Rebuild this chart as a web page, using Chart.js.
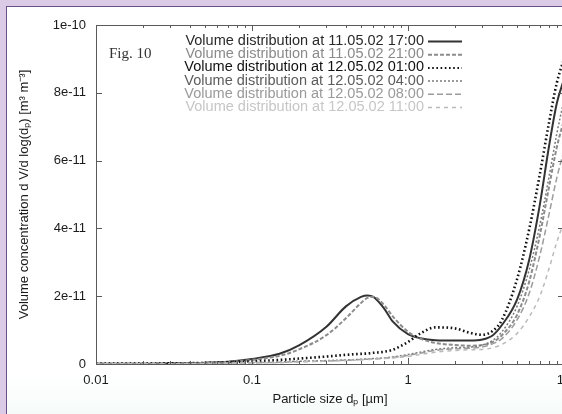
<!DOCTYPE html>
<html>
<head>
<meta charset="utf-8">
<script src="https://cdn.jsdelivr.net/npm/chart.js@4.4.0/dist/chart.umd.min.js"></script>
<style>
  html, body { margin: 0; padding: 0; width: 562px; height: 414px; overflow: hidden; background: #dccbe6; }
  #panel { position: absolute; left: 6px; top: 6px; width: 620px; height: 430px;
           background: linear-gradient(#ffffff 85%, #f1f9f7);
           border-left: 1px solid #6d4f86; border-top: 1px solid #6d4f86; }
  #myChart { position: absolute; left: 0; top: 0; }
</style>
</head>
<body>
<div id="panel"></div>
<canvas id="myChart" width="600" height="414"></canvas>
<script>
// particle size d_p in µm
const sizes = [0.01, 0.02, 0.03, 0.05, 0.07, 0.1, 0.15, 0.2, 0.3, 0.4, 0.5, 0.55, 0.6, 0.7, 0.8,
               1.0, 1.2, 1.5, 2.0, 2.5, 3.0, 3.5, 4.0, 5.0, 6.0, 7.0, 8.0, 9.0, 10.0];

// dV/dlog(d_p) in units of 1e-11 m^3 m^-3
const vol_1105_1700 = [0.01, 0.01, 0.02, 0.04, 0.07, 0.15, 0.30, 0.55, 1.10, 1.70, 1.98, 2.02, 1.98, 1.65, 1.25,
                       0.88, 0.76, 0.70, 0.69, 0.69, 0.72, 0.85, 1.15, 1.90, 3.10, 4.70, 6.40, 7.70, 8.40];
const vol_1105_2100 = [0.01, 0.01, 0.02, 0.03, 0.06, 0.12, 0.24, 0.43, 0.85, 1.35, 1.80, 1.95, 1.98, 1.75, 1.40,
                       0.95, 0.75, 0.62, 0.56, 0.54, 0.56, 0.65, 0.85, 1.45, 2.45, 3.80, 5.20, 6.40, 7.20];
const vol_1205_0100 = [0.01, 0.01, 0.02, 0.03, 0.05, 0.08, 0.12, 0.16, 0.22, 0.27, 0.30, 0.31, 0.33, 0.36, 0.42,
                       0.65, 0.90, 1.08, 1.05, 0.92, 0.86, 0.98, 1.30, 2.50, 4.00, 5.60, 7.10, 8.30, 9.00];
const vol_1205_0400 = [0.01, 0.01, 0.01, 0.02, 0.03, 0.04, 0.06, 0.08, 0.10, 0.12, 0.14, 0.15, 0.16, 0.18, 0.21,
                       0.28, 0.35, 0.43, 0.48, 0.50, 0.56, 0.70, 0.95, 1.70, 2.80, 4.10, 5.50, 6.80, 7.80];
const vol_1205_0800 = [0.01, 0.01, 0.01, 0.02, 0.03, 0.04, 0.05, 0.07, 0.09, 0.11, 0.13, 0.14, 0.15, 0.17, 0.19,
                       0.25, 0.32, 0.40, 0.45, 0.47, 0.50, 0.60, 0.75, 1.30, 2.10, 3.20, 4.40, 5.50, 6.30];
const vol_1205_1100 = [0.01, 0.01, 0.01, 0.02, 0.02, 0.03, 0.04, 0.06, 0.08, 0.10, 0.12, 0.13, 0.14, 0.16, 0.18,
                       0.22, 0.28, 0.35, 0.40, 0.42, 0.43, 0.48, 0.58, 0.90, 1.40, 2.00, 2.80, 3.60, 4.20];

const seriesLabels = [
  'Volume distribution at 11.05.02 17:00',
  'Volume distribution at 11.05.02 21:00',
  'Volume distribution at 12.05.02 01:00',
  'Volume distribution at 12.05.02 04:00',
  'Volume distribution at 12.05.02 08:00',
  'Volume distribution at 12.05.02 11:00'
];
const seriesValues = [vol_1105_1700, vol_1105_2100, vol_1205_0100, vol_1205_0400, vol_1205_0800, vol_1205_1100];

const xTickValues = [0.01, 0.1, 1, 10];
const xTickLabels = ['0.01', '0.1', '1', '10'];
const yTickValues = [0, 2, 4, 6, 8, 10];
const yTickLabels = ['0', '2e-11', '4e-11', '6e-11', '8e-11', '1e-10'];

// line looks, one per series
const lineColors = ['#333333', '#8c8c8c', '#111111', '#7a7a7a', '#9c9c9c', '#bababa'];
const textColors = ['#2a2a2a', '#8a8a8a', '#111111', '#5c5c5c', '#9a9a9a', '#c6c6c6'];
const lineDashes = [[], [4, 2], [1.6, 2.6], [2, 2], [6, 3], [4, 4]];
const lineWidths = [2, 2, 2.6, 1.5, 1.5, 1.5];

const FONT = '"Liberation Sans", Arial, sans-serif';

// gnuplot style frame with inner ticks
const framePlugin = {
  id: 'frame',
  afterDatasetsDraw(chart) {
    const {ctx, chartArea: a, scales: {x, y}} = chart;
    ctx.save();
    ctx.strokeStyle = '#5a5a5a';
    ctx.lineWidth = 1;
    ctx.strokeRect(a.left + 0.5, a.top + 0.5, a.right - a.left, a.bottom - a.top);
    ctx.beginPath();
    for (let dec = 0.01; dec < 10; dec *= 10) {
      for (let m = 1; m < 10; m++) {
        const px = Math.round(x.getPixelForValue(dec * m)) + 0.5;
        const len = m === 1 ? 6 : 3;
        ctx.moveTo(px, a.bottom); ctx.lineTo(px, a.bottom - len);
        ctx.moveTo(px, a.top); ctx.lineTo(px, a.top + len);
      }
    }
    yTickValues.forEach(v => {
      const py = Math.round(y.getPixelForValue(v)) + 0.5;
      ctx.moveTo(a.left, py); ctx.lineTo(a.left + 6, py);
      ctx.moveTo(a.right, py); ctx.lineTo(a.right - 6, py);
    });
    ctx.stroke();
    ctx.restore();
  }
};

// legend: text right aligned, sample line on the right
const keyPlugin = {
  id: 'key',
  afterDraw(chart) {
    const {ctx} = chart;
    ctx.save();
    let size = 13;
    ctx.font = size + 'px ' + FONT;
    const w = ctx.measureText(seriesLabels[0]).width;
    size = size * 239 / w;
    ctx.font = size + 'px ' + FONT;
    ctx.textAlign = 'right';
    ctx.textBaseline = 'middle';
    seriesLabels.forEach((label, i) => {
      const yy = 41 + 13.2 * i;
      ctx.fillStyle = textColors[i];
      ctx.fillText(label, 424, yy);
      ctx.strokeStyle = lineColors[i];
      ctx.lineWidth = Math.min(lineWidths[i], 2);
      ctx.setLineDash(lineDashes[i]);
      ctx.beginPath();
      ctx.moveTo(428, yy + 0.5); ctx.lineTo(462, yy + 0.5);
      ctx.stroke();
    });
    ctx.setLineDash([]);
    ctx.fillStyle = '#333';
    ctx.textAlign = 'left';
    ctx.font = '15px "Liberation Serif", "DejaVu Serif", serif';
    ctx.fillText('Fig. 10', 109, 54);
    ctx.restore();
  }
};

// draw the lightest series first so the dark ones stay on top
const datasets = seriesValues.map((vals, i) => ({
  label: seriesLabels[i],
  data: sizes.map((s, j) => ({x: s, y: vals[j]})),
  borderColor: lineColors[i],
  borderDash: lineDashes[i],
  borderWidth: lineWidths[i],
  pointRadius: 0,
  fill: false,
  cubicInterpolationMode: 'monotone'
})).reverse();

const ctx = document.getElementById('myChart').getContext('2d');
const myChart = new Chart(ctx, {
  type: 'line',
  data: { datasets: datasets },
  options: {
    responsive: false,
    animation: false,
    layout: { padding: { left: 0, top: 25, right: 36, bottom: 0 } },
    plugins: { legend: { display: false }, tooltip: { enabled: false } },
    scales: {
      x: {
        type: 'logarithmic',
        min: 0.01,
        max: 10,
        afterBuildTicks: s => { s.ticks = xTickValues.map(v => ({value: v})); },
        afterFit: s => { s.height = 50; },
        grid: { display: false, drawTicks: false },
        border: { display: false },
        ticks: {
          autoSkip: false, maxRotation: 0, padding: 9, color: '#1a1a1a',
          font: { family: FONT, size: 13 },
          callback: v => xTickLabels[xTickValues.indexOf(v)]
        },
        title: {
          display: true, text: 'Particle size dₚ [µm]', color: '#1a1a1a',
          font: { family: FONT, size: 13 }, padding: { top: 0, bottom: 7 }
        }
      },
      y: {
        min: 0,
        max: 10,
        afterBuildTicks: s => { s.ticks = yTickValues.map(v => ({value: v})); },
        afterFit: s => { s.width = 96; },
        grid: { display: false, drawTicks: false },
        border: { display: false },
        ticks: {
          padding: 10, color: '#1a1a1a',
          font: { family: FONT, size: 13 },
          callback: v => yTickLabels[yTickValues.indexOf(v)]
        },
        title: {
          display: true, text: 'Volume concentration d V/d log(dₚ) [m³ m⁻³]', color: '#1a1a1a',
          font: { family: FONT, size: 13 }, padding: { top: 17, bottom: 0 }
        }
      }
    }
  },
  plugins: [framePlugin, keyPlugin]
});
</script>
</body>
</html>
